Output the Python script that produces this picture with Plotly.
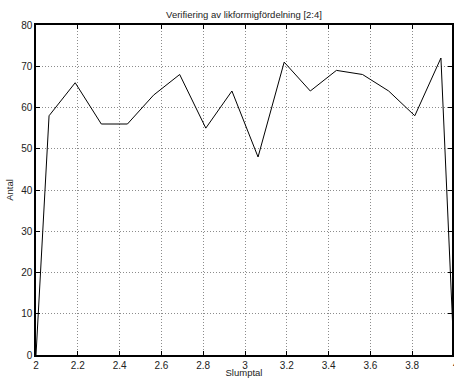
import plotly.graph_objects as go

bin_x = [2.0, 2.0625, 2.1875, 2.3125, 2.4375, 2.5625, 2.6875, 2.8125, 2.9375,
         3.0625, 3.1875, 3.3125, 3.4375, 3.5625, 3.6875, 3.8125, 3.9375, 4.0]
counts = [0, 58, 66, 56, 56, 63, 68, 55, 64, 48, 71, 64, 69, 68, 64, 58, 72, 0]
x_ticks = [2, 2.2, 2.4, 2.6, 2.8, 3, 3.2, 3.4, 3.6, 3.8]
x_tick_labels = ["2", "2.2", "2.4", "2.6", "2.8", "3", "3.2", "3.4", "3.6", "3.8"]
y_ticks = [0, 10, 20, 30, 40, 50, 60, 70, 80]

W, H = 454, 378
ml, mt, mb = 36, 25, 23
px_per_unit = 210.0
xmin = 2.0
xmax = xmin + (W - ml) / px_per_unit

fig = go.Figure()
fig.add_trace(go.Scatter(x=bin_x, y=counts, mode="lines",
                         line=dict(color="black", width=1), showlegend=False))

font = dict(family="Liberation Sans, Arial, sans-serif", size=10, color="#222")
tfont = dict(family="Liberation Sans, Arial, sans-serif", size=9.5, color="#222")
axcommon = dict(showline=True, linecolor="black", linewidth=1.5, mirror="allticks",
                ticks="inside", ticklen=4, tickcolor="black",
                showgrid=True, gridcolor="#8c8c8c", griddash="1px,2px", gridwidth=1,
                zeroline=False, tickfont=font)

fig.update_layout(
    width=W, height=H,
    margin=dict(l=ml, r=0, t=mt, b=mb),
    paper_bgcolor="white", plot_bgcolor="white",
    title=dict(text="Verifiering av likformigfördelning [2:4]", x=0.5, xref="paper",
               y=1 - 15 / H, yanchor="middle", xanchor="center", font=tfont),
    xaxis=dict(range=[xmin, xmax], tickvals=x_ticks, ticktext=x_tick_labels,
               title=dict(text="Slumptal", font=tfont, standoff=0), **axcommon),
    yaxis=dict(range=[0, 80], tickvals=y_ticks,
               title=dict(text="Antal", font=tfont, standoff=6), **axcommon),
)
# partially visible "4" tick label at the right edge
fig.add_annotation(text="4", x=1, xref="paper", xanchor="left", xshift=-1,
                   y=0, yref="paper", yanchor="top", yshift=-2,
                   showarrow=False, font=font)

fig.write_html("out.html")
